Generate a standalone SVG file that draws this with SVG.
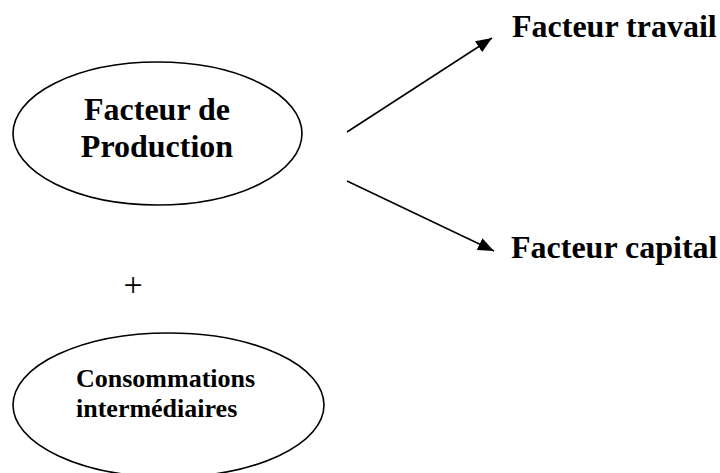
<svg xmlns="http://www.w3.org/2000/svg" width="720" height="473" viewBox="0 0 720 473">
  <style>
    .node { fill: #ffffff; stroke: #000000; stroke-width: 1.6; }
    .big { font-family: "Liberation Serif", "Times New Roman", serif; font-weight: bold; font-size: 32px; fill: #000000; }
    .small { font-family: "Liberation Serif", "Times New Roman", serif; font-weight: bold; font-size: 26px; fill: #000000; }
    .plus { font-family: "Liberation Serif", "Times New Roman", serif; font-size: 34px; fill: #000000; }
    .conn { stroke: #000000; stroke-width: 1.5; fill: none; marker-end: url(#arrow); }
  </style>
  <defs>
    <marker id="arrow" markerUnits="userSpaceOnUse" markerWidth="17" markerHeight="13" refX="16" refY="6.5" orient="auto">
      <path d="M0,0 L16,6.5 L0,13 z" fill="#000000"/>
    </marker>
  </defs>
  <rect width="720" height="473" fill="#ffffff"/>

  <g id="facteur-production">
    <ellipse class="node" cx="157.5" cy="133.5" rx="144.5" ry="71.5"/>
    <text class="big" x="157" y="120" text-anchor="middle">Facteur de</text>
    <text class="big" x="157" y="157" text-anchor="middle">Production</text>
  </g>

  <g id="facteur-travail">
    <text class="big" x="512" y="37">Facteur travail</text>
  </g>

  <g id="facteur-capital">
    <text class="big" x="511" y="258">Facteur capital</text>
  </g>

  <g id="plus">
    <text class="plus" x="133" y="296" text-anchor="middle">+</text>
  </g>

  <g id="consommations-intermediaires">
    <ellipse class="node" cx="168.5" cy="405" rx="155.5" ry="72"/>
    <text class="small" x="76" y="387">Consommations</text>
    <text class="small" x="76" y="417">intermédiaires</text>
  </g>

  <g id="connectors">
    <line class="conn" x1="347" y1="132" x2="492" y2="38"/>
    <line class="conn" x1="347" y1="181" x2="494" y2="251"/>
  </g>
</svg>
